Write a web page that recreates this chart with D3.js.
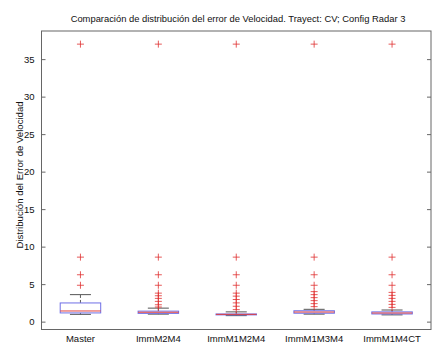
<!DOCTYPE html>
<html>
<head>
<meta charset="utf-8">
<script src="https://cdn.jsdelivr.net/npm/d3@7"></script>
<style>
  html, body { margin: 0; padding: 0; background: #fff; }
  svg { display: block; font-family: "Liberation Sans", Arial, sans-serif; }
</style>
</head>
<body>
<svg id="chart" width="432" height="345"></svg>
<script>
// Box plot summary per configuration
const categories = ["Master", "ImmM2M4", "ImmM1M2M4", "ImmM1M3M4", "ImmM1M4CT"];
const whiskerLow  = [0.97, 1.00, 0.80, 1.00, 0.90];
const q1          = [1.16, 1.10, 0.90, 1.12, 1.02];
const median      = [1.42, 1.25, 0.97, 1.28, 1.15];
const q3          = [2.49, 1.40, 1.02, 1.45, 1.30];
const whiskerHigh = [3.60, 1.80, 1.30, 1.64, 1.55];
const outliers = [
  [37, 8.6, 6.25, 4.85],
  [37, 8.6, 6.25, 4.85, 3.8, 3.45, 3.1, 2.7, 2.25, 1.95],
  [37, 8.6, 6.25, 4.85, 3.8, 3.4, 2.95, 2.5, 2.05, 1.6],
  [37, 8.6, 6.25, 4.85, 4.0, 3.6, 3.2, 2.8, 2.4, 2.0],
  [37, 8.6, 6.25, 4.85, 3.9, 3.5, 3.1, 2.7, 2.3, 1.9]
];
const yTicks = [0, 5, 10, 15, 20, 25, 30, 35];

const titleText = "Comparación de distribución del error de Velocidad. Trayect: CV; Config Radar 3";
const yLabel = "Distribución del Error de Velocidad";

const svg = d3.select("#chart");
const W = 432;
const plotL = 41.5, plotR = W - 1;
const plotT = 31, plotB = 329.5;

const x = d3.scaleBand().domain(categories).range([plotL, plotR]).paddingInner(0).paddingOuter(0);
const y = d3.scaleLinear().domain([-1.05, 38.75]).range([plotB, plotT]);

const axisColor = "#666";
const textColor = "#111";
const fontFam = "Liberation Sans, Arial, sans-serif";
const boxW = x.bandwidth() * 0.52;
const capW = x.bandwidth() * 0.27;

const g = svg.append("g");

// Boxes, whiskers, medians
categories.forEach((c, i) => {
  const cx = x(c) + x.bandwidth() / 2;
  // dashed whiskers
  g.append("line").attr("x1", cx).attr("x2", cx)
    .attr("y1", y(q3[i])).attr("y2", y(whiskerHigh[i]))
    .attr("stroke", "#333").attr("stroke-dasharray", "3,2").attr("stroke-width", 0.8);
  g.append("line").attr("x1", cx).attr("x2", cx)
    .attr("y1", y(q1[i])).attr("y2", y(whiskerLow[i]))
    .attr("stroke", "#333").attr("stroke-dasharray", "3,2").attr("stroke-width", 0.8);
  // whisker caps
  [whiskerHigh[i], whiskerLow[i]].forEach(v => {
    g.append("line").attr("x1", cx - capW / 2).attr("x2", cx + capW / 2)
      .attr("y1", y(v)).attr("y2", y(v))
      .attr("stroke", "#555").attr("stroke-width", 1);
  });
  // box
  g.append("rect").attr("x", cx - boxW / 2).attr("width", boxW)
    .attr("y", y(q3[i])).attr("height", Math.max(0.5, y(q1[i]) - y(q3[i])))
    .attr("fill", "none").attr("stroke", "#6f6fe6").attr("stroke-width", 1);
  // median
  g.append("line").attr("x1", cx - boxW / 2).attr("x2", cx + boxW / 2)
    .attr("y1", y(median[i])).attr("y2", y(median[i]))
    .attr("stroke", "#e04040").attr("stroke-width", 1);
  // outliers as '+'
  outliers[i].forEach(v => {
    const py = y(v), s = 3.5;
    g.append("path")
      .attr("d", `M${cx - s},${py}H${cx + s}M${cx},${py - s}V${py + s}`)
      .attr("stroke", "#e03030").attr("stroke-width", 0.8).attr("fill", "none");
  });
});

// Frame
svg.append("rect").attr("x", plotL).attr("y", plotT)
  .attr("width", plotR - plotL).attr("height", plotB - plotT)
  .attr("fill", "none").attr("stroke", axisColor).attr("stroke-width", 1);

// Y axis with inward ticks
const yAxis = d3.axisLeft(y).tickValues(yTicks).tickSizeInner(-4).tickSizeOuter(0).tickPadding(7);
const ya = svg.append("g").attr("transform", `translate(${plotL},0)`).call(yAxis);
ya.select(".domain").remove();
ya.selectAll(".tick line").attr("stroke", axisColor);
ya.selectAll(".tick text").attr("font-size", 9.5).attr("fill", textColor).attr("font-family", fontFam);

const yAxisR = d3.axisRight(y).tickValues(yTicks).tickSizeInner(-4).tickSizeOuter(0).tickFormat("");
const yr = svg.append("g").attr("transform", `translate(${plotR},0)`).call(yAxisR);
yr.select(".domain").remove();
yr.selectAll(".tick line").attr("stroke", axisColor);

// X category labels
const xAxis = d3.axisBottom(x).tickSize(0).tickPadding(6);
const xa = svg.append("g").attr("transform", `translate(0,${plotB})`).call(xAxis);
xa.select(".domain").remove();
xa.selectAll(".tick text").attr("font-size", 9.5).attr("fill", textColor).attr("font-family", fontFam);

// Title
svg.append("text").attr("x", 238).attr("y", 22)
  .attr("text-anchor", "middle").attr("font-size", 9.4).attr("fill", textColor)
  .attr("font-family", fontFam)
  .text(titleText);

// Y label
svg.append("text")
  .attr("transform", `translate(23,175) rotate(-90)`)
  .attr("text-anchor", "middle").attr("font-size", 9.6).attr("fill", textColor)
  .attr("font-family", fontFam)
  .text(yLabel);
</script>
</body>
</html>
